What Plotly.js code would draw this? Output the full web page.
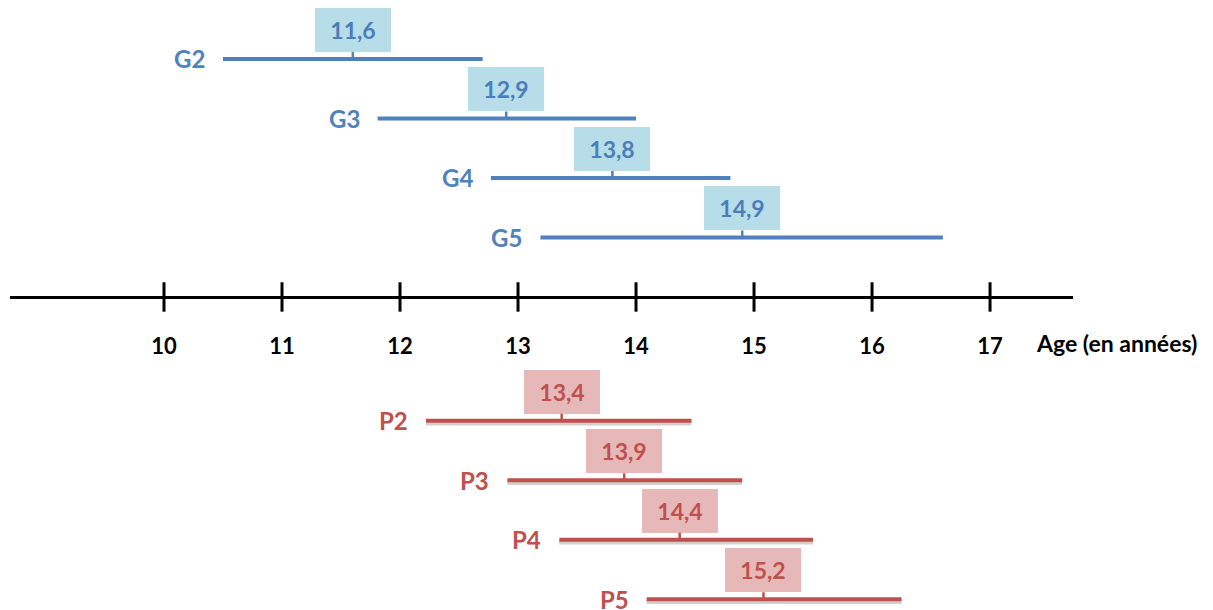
<!DOCTYPE html>
<html><head><meta charset="utf-8">
<script src="https://cdn.plot.ly/plotly-3.0.1.min.js"></script>
<style>html,body{margin:0;padding:0;background:#fff}#chart{width:1213px;height:610px}</style>
</head><body><div id="chart"></div>
<script>
// Data
const gNames = ['G2','G3','G4','G5'];
const gMin   = [10.50, 11.81, 12.77, 13.19];
const gMax   = [12.70, 14.00, 14.80, 16.60];
const gMean  = [11.6, 12.9, 13.8, 14.9];
const gLabel = ['11,6','12,9','13,8','14,9'];

const pNames = ['P2','P3','P4','P5'];
const pMin   = [12.22, 12.91, 13.35, 14.09];
const pMax   = [14.47, 14.90, 15.50, 16.25];
const pMean  = [13.37, 13.90, 14.37, 15.08];
const pLabel = ['13,4','13,9','14,4','15,2'];

const tickVals = [10, 11, 12, 13, 14, 15, 16, 17];
const axisTitle = 'Age (en années)';

const BLUE = '#4f81bd', BLUE_BOX = '#b7dde8', BLUE_TXT = '#4a7ebb';
const RED = '#c0504d', RED_BOX = '#e6b9b8', RED_TXT = '#c0504d';
const FONT = 'Lato, "Open Sans", sans-serif';

const gRows = gNames.map((_, i) => 4 - i);
const pRows = pNames.map((_, i) => -2.08 - i);

function rangeTrace(mins, maxs, rows, color, dy, width) {
  const x = [], y = [];
  mins.forEach((m, i) => { x.push(m, maxs[i], null); y.push(rows[i] + dy, rows[i] + dy, null); });
  return {type: 'scatter', mode: 'lines', x, y, hoverinfo: 'skip', cliponaxis: false,
    line: {color, width}, showlegend: false};
}

const traces = [
  rangeTrace(gMin, gMax, gRows, BLUE, 0, 4),
  rangeTrace(pMin, pMax, pRows, 'rgba(120,120,120,0.35)', -0.045, 4),
  rangeTrace(pMin, pMax, pRows, RED, 0, 4),
  {type: 'scatter', mode: 'markers', x: tickVals, y: tickVals.map(() => 0), hoverinfo: 'skip',
   cliponaxis: false, showlegend: false,
   marker: {symbol: 'line-ns', size: 21, line: {color: '#000', width: 3}}}
];

const annotations = [];
function addGroup(names, mins, means, labels, rows, lineCol, boxCol, txtCol) {
  names.forEach((n, i) => {
    annotations.push({x: mins[i], y: rows[i], xref: 'x', yref: 'y', text: '<b>' + n + '</b>',
      showarrow: false, xanchor: 'right', yanchor: 'middle', xshift: -16, yshift: 0,
      font: {family: FONT, size: 24, color: lineCol}});
    annotations.push({x: means[i], y: rows[i], xref: 'x', yref: 'y', text: '<b>' + labels[i] + '</b>',
      showarrow: true, arrowhead: 0, arrowwidth: 2.5, arrowcolor: lineCol, ax: 0, ay: -7,
      standoff: 0, startstandoff: 0,
      xanchor: 'center', yanchor: 'bottom',
      width: 76, height: 44, bgcolor: boxCol, borderpad: 0, borderwidth: 0,
      font: {family: FONT, size: 23, color: txtCol}});
  });
}
addGroup(gNames, gMin, gMean, gLabel, gRows, BLUE, BLUE_BOX, BLUE_TXT);
addGroup(pNames, pMin, pMean, pLabel, pRows, RED, RED_BOX, RED_TXT);
annotations.push({xref: 'paper', yref: 'paper', x: 1034 / 1213, y: (610 - 343) / 610,
  xanchor: 'left', yanchor: 'middle', showarrow: false, text: '<b>' + axisTitle + '</b>',
  font: {family: FONT, size: 23, color: '#000'}});

const layout = {
  width: 1213, height: 610,
  margin: {l: 0, r: 0, t: 0, b: 0, pad: 0},
  paper_bgcolor: '#fff', plot_bgcolor: '#fff',
  showlegend: false,
  xaxis: {domain: [10 / 1213, 1073 / 1213], range: [8.695, 17.703], anchor: 'free', position: (610 - 297) / 610,
    showline: true, linecolor: '#000', linewidth: 3, showgrid: false, zeroline: false,
    tickvals: tickVals, ticktext: tickVals.map(String), ticks: 'outside', ticklen: 29,
    tickcolor: 'rgba(0,0,0,0)', tickfont: {family: FONT, size: 22, color: '#000', weight: 'bold'}},
  yaxis: {range: [-5.26, 4.99], visible: false, showgrid: false, zeroline: false, domain: [0, 1]},
  annotations
};
Plotly.newPlot('chart', traces, layout, {displayModeBar: false, staticPlot: true});
</script></body></html>
